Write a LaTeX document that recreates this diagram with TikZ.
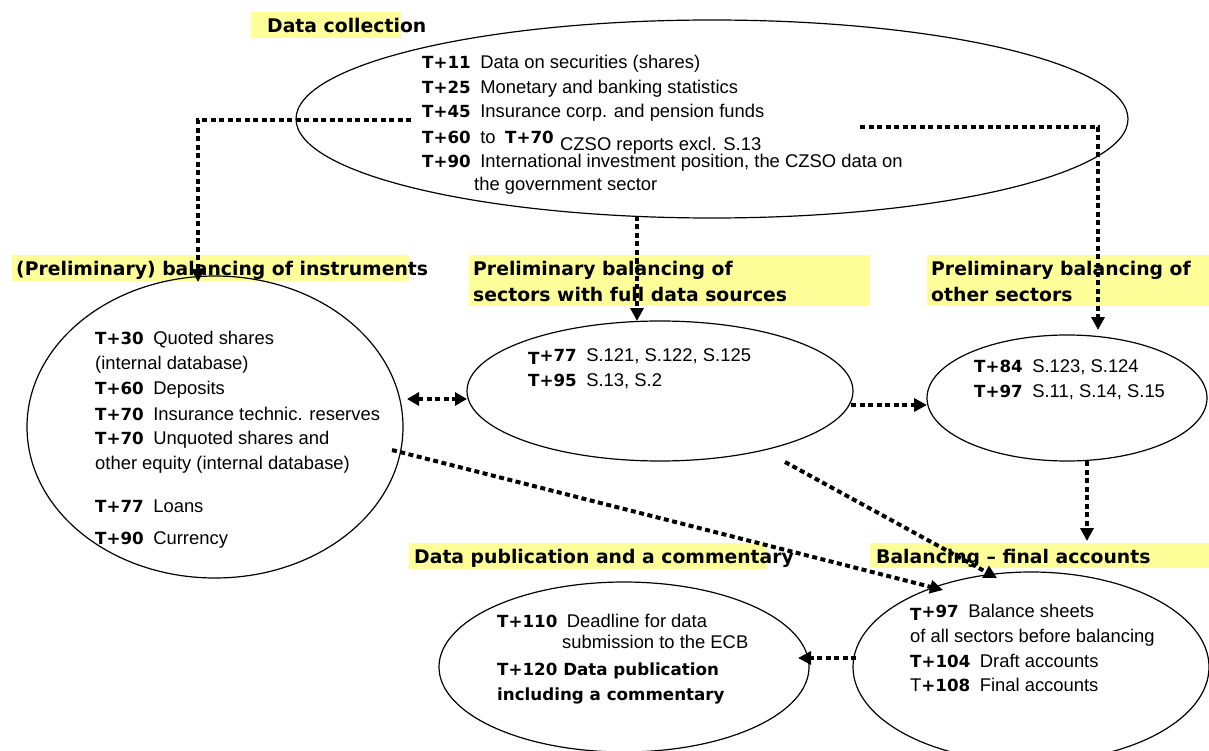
\documentclass[tikz,border=0pt]{standalone}
\usepackage{fontspec}
\setmainfont{Liberation Sans}
\newfontfamily\tbfont{DejaVu Sans}
\usetikzlibrary{arrows.meta,shapes.geometric}
\definecolor{hl}{RGB}{255,255,153}
\newcommand\TB[1]{{\tbfont\bfseries\fontsize{16.7}{20}\selectfont #1}}
\newcommand\TL[1]{\TB{#1}\hspace{9.5pt}}
\begin{document}
\begin{tikzpicture}[x=1pt,y=-1pt,
  ell/.style={ellipse, draw, line width=1.2pt, inner sep=0pt},
  txt/.style={anchor=base west, inner sep=0pt, font=\fontsize{18.4}{21}\selectfont},
  hdr/.style={anchor=base west, inner sep=0pt, font=\tbfont\bfseries\fontsize{18.8}{22}\selectfont},
  hlbox/.style={fill=hl, draw=none},
  conn/.style={line width=4pt, dash pattern=on 5pt off 3.5pt},
  arr/.style={-{Triangle[length=13pt,width=13pt]}},
  darr/.style={{Triangle[length=12pt,width=13pt]}-{Triangle[length=12pt,width=13pt]}}]
\useasboundingbox (0,0) rectangle (1209,751);
\fill[white] (0,0) rectangle (1209,751);

% header highlights
\fill[hlbox] (251,12) rectangle (401,38);
\fill[hlbox] (12,255) rectangle (409,281);
\fill[hlbox] (469,255) rectangle (870,306);
\fill[hlbox] (927,255) rectangle (1209,306);
\fill[hlbox] (409,543) rectangle (767,569);
\fill[hlbox] (870,543) rectangle (1209,568);

% headers
\node[hdr] (hCol) at (267,33) {Data collection};
\node[hdr] (hInst) at (16,275) {(Preliminary) balancing of instruments};
\node[hdr] (hFullA) at (473,276) {Preliminary balancing of};
\node[hdr] (hFullB) at (473,301) {sectors with full data sources};
\node[hdr] (hOthA) at (931,276) {Preliminary balancing of};
\node[hdr] (hOthB) at (931,301) {other sectors};
\node[hdr] (hPub) at (414,563) {Data publication and a commentary};
\node[hdr] (hFin) at (876,563) {Balancing – final accounts};

% ellipses
\node[ell, minimum width=832pt, minimum height=198pt] (eTop) at (712,119) {};
\node[ell, minimum width=376pt, minimum height=302pt] (eInst) at (215,427) {};
\node[ell, minimum width=386pt, minimum height=140pt] (eFull) at (660,391) {};
\node[ell, minimum width=280pt, minimum height=126pt] (eOther) at (1067,398) {};
\node[ell, minimum width=370pt, minimum height=170pt] (ePub) at (624,667) {};
\node[ell, minimum width=356pt, minimum height=190pt] (eFinal) at (1031,667) {};

% top ellipse text
\node[txt] (t1) at (422,69) {\TL{T+11}Data on securities (shares)};
\node[txt] (t2) at (422,94) {\TL{T+25}Monetary and banking statistics};
\node[txt] (t3) at (422,118) {\TL{T+45}Insurance corp. and pension funds};
\node[txt] (t4) at (422,144) {\TL{T+60}to\hspace{9.5pt}\TB{T+70}};
\node[txt] (t4b) at (560,151) {CZSO reports excl. S.13};
\node[txt] (t5) at (422,168) {\TL{T+90}International investment position, the CZSO data on};
\node[txt] (t6) at (474,191) {the government sector};

% instruments ellipse text
\node[txt] (i1) at (95,344) {\TL{T+30}Quoted shares};
\node[txt] (i2) at (95,369) {(internal database)};
\node[txt] (i3) at (95,394) {\TL{T+60}Deposits};
\node[txt] (i4) at (95,420) {\TL{T+70}Insurance technic. reserves};
\node[txt] (i5) at (95,444) {\TL{T+70}Unquoted shares and};
\node[txt] (i6) at (95,469) {other equity (internal database)};
\node[txt] (i7) at (95,512) {\TL{T+77}Loans};
\node[txt] (i8) at (95,544) {\TL{T+90}Currency};

% full data sources ellipse text
\node[txt] (f1) at (528,361) {\TL{\raisebox{-3.5pt}{T}+77}S.121, S.122, S.125};
\node[txt] (f2) at (528,386) {\TL{T+95}S.13, S.2};

% other sectors ellipse text
\node[txt] (o1) at (974,372) {\TL{T+84}S.123, S.124};
\node[txt] (o2) at (974,397) {\TL{T+97}S.11, S.14, S.15};

% publication ellipse text
\node[txt] (p1) at (497,627) {\TL{T+110}Deadline for data};
\node[txt] (p2) at (562,648) {submission to the ECB};
\node[txt] (p3) at (497,675) {\TB{T+120 Data publication}};
\node[txt] (p4) at (497,700) {\TB{including a commentary}};

% final accounts ellipse text
\node[txt] (b1) at (910,617) {\TL{\raisebox{-3.5pt}{T}+97}Balance sheets};
\node[txt] (b2) at (910,642) {of all sectors before balancing};
\node[txt] (b3) at (910,667) {\TL{T+104}Draft accounts};
\node[txt] (b4) at (910,691) {T\TL{+108}Final accounts};

% connector points
\coordinate (aS) at (411,120);
\coordinate (aC) at (198,120);
\coordinate (aE) at (198,282);
\coordinate (bS) at (860,127);
\coordinate (bC) at (1098,127);
\coordinate (bE) at (1098,330);
\coordinate (cS) at (637,216);
\coordinate (cE) at (637,321);
\coordinate (dS) at (407,399);
\coordinate (dE) at (467,399);
\coordinate (eS) at (851,405);
\coordinate (eE) at (927,405);
\coordinate (fS) at (1087,461);
\coordinate (fE) at (1087,541);
\coordinate (gS) at (392,450);
\coordinate (gE) at (943,590);
\coordinate (hS) at (785,462);
\coordinate (hE) at (997,578);
\coordinate (iS) at (856,658);
\coordinate (iE) at (798,658);

% connectors
\draw[conn,arr] (aS) -- (aC) -- (aE);
\draw[conn,arr] (bS) -- (bC) -- (bE);
\draw[conn,arr] (cS) -- (cE);
\draw[conn,darr] (dS) -- (dE);
\draw[conn,arr] (eS) -- (eE);
\draw[conn,arr] (fS) -- (fE);
\draw[conn,arr] (gS) -- (gE);
\draw[conn,arr] (hS) -- (hE);
\draw[conn,arr] (iS) -- (iE);
\end{tikzpicture}
\end{document}
